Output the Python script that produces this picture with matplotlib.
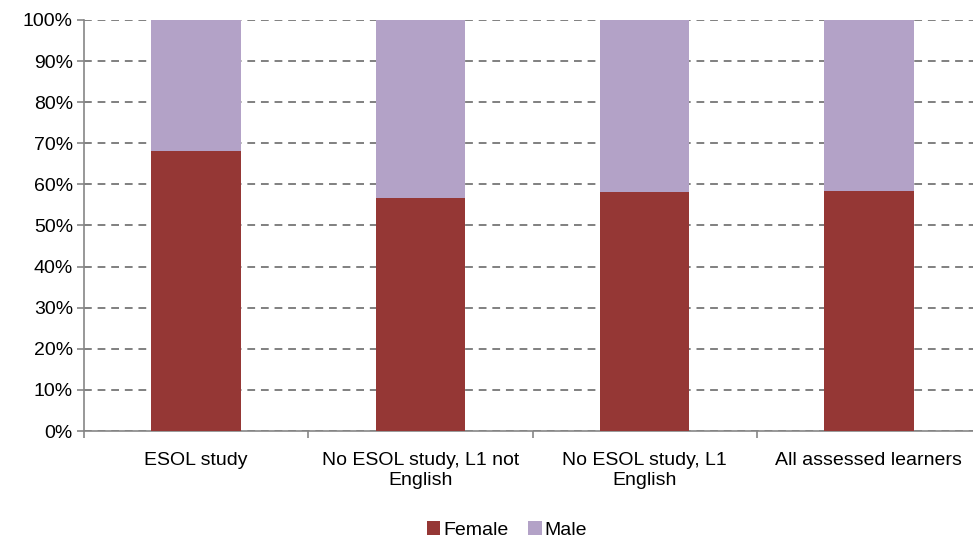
import matplotlib.pyplot as plt
import numpy as np

categories = ["ESOL study", "No ESOL study, L1 not\nEnglish", "No ESOL study, L1\nEnglish", "All assessed learners"]
female = [68.1, 56.6, 58.1, 58.5]
male = [100 - v for v in female]

plt.rcParams['font.family'] = ['Liberation Sans', 'DejaVu Sans']

fig = plt.figure(figsize=(9.73, 5.41), dpi=100)
ax = fig.add_axes([84 / 973, 110 / 541, 897 / 973, 411 / 541])

x = np.arange(len(categories))
ax.bar(x, female, width=0.4, color="#953735", label="Female", zorder=3)
ax.bar(x, male, width=0.4, bottom=female, color="#B3A2C7", label="Male", zorder=3)

ax.set_xlim(-0.5, len(categories) - 0.5)
ax.set_ylim(0, 100)
ax.set_yticks(np.arange(0, 101, 10))
ax.set_yticklabels([f"{v}%" for v in range(0, 101, 10)], fontsize=14)
ax.yaxis.grid(True, linestyle=(0, (4, 3)), color="#808080", linewidth=1.4, zorder=0)

# category labels centered, tick marks on the category boundaries
ax.set_xticks(x)
ax.set_xticklabels(categories, fontsize=14, linespacing=1.25)
ax.tick_params(axis="x", length=0, pad=15)
ax.set_xticks(np.arange(-0.5, len(categories), 1), minor=True)
ax.tick_params(axis="x", which="minor", length=5, color="#868686", width=1.2)
ax.tick_params(axis="y", length=5, color="#868686", width=1.2, pad=3)

for side in ["top", "right"]:
    ax.spines[side].set_visible(False)
for side in ["left", "bottom"]:
    ax.spines[side].set_color("#868686")
    ax.spines[side].set_linewidth(1.2)

fig.legend(loc="center", bbox_to_anchor=(507 / 973, 1 - 530 / 541), ncol=2, frameon=False,
           fontsize=14, handlelength=0.7, handleheight=0.7, handletextpad=0.15, columnspacing=1.0)

fig.savefig("out.png", dpi=100)
plt.close(fig)
